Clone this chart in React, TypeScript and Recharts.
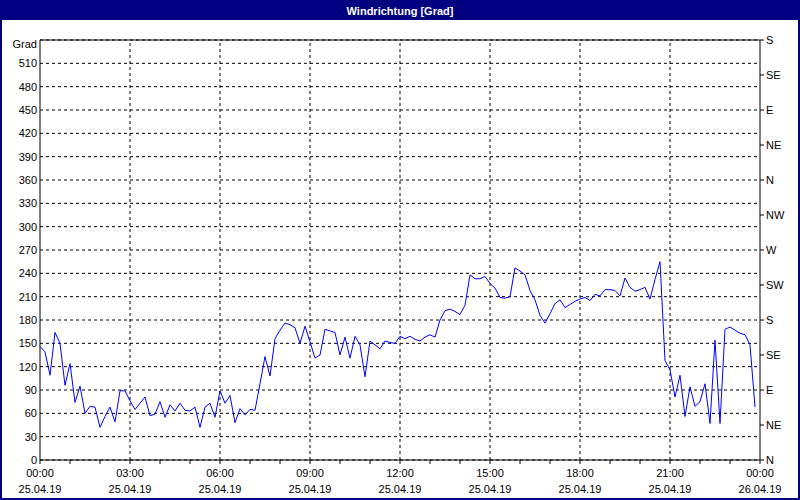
import React from 'react';
import { LineChart, Line, XAxis, YAxis, CartesianGrid, ReferenceLine } from 'recharts';

// wind direction in degrees, one reading every 10 minutes from 25.04.19 00:00
const stepMinutes = 10;
const directionValues = [
  146, 139, 109, 164, 150, 96, 124, 74, 95, 60, 69, 68,
  42, 56, 68, 49, 89, 89, 76, 65, 73, 81, 57, 59,
  75, 55, 71, 63, 73, 64, 63, 68, 42, 68, 73, 55,
  89, 73, 83, 48, 66, 58, 65, 64, 98, 133, 108, 156,
  167, 176, 174, 170, 150, 172, 152, 131, 135, 168, 166, 164,
  135, 158, 131, 159, 148, 107, 153, 148, 143, 153, 151, 150,
  159, 156, 159, 155, 153, 158, 161, 158, 180, 192, 194, 191,
  187, 199, 238, 233, 233, 236, 227, 221, 209, 208, 210, 247,
  243, 238, 218, 206, 186, 176, 188, 201, 206, 196, 200, 204,
  207, 209, 205, 213, 211, 219, 219, 218, 211, 234, 222, 217,
  219, 222, 207, 232, 255, 128, 116, 81, 109, 56, 94, 69,
  75, 98, 47, 154, 47, 168, 171, 167, 163, 161, 148, 68,
];

const hourTicks = [0, 1, 2, 3, 4, 5, 6, 7, 8, 9, 10, 11, 12, 13, 14, 15, 16, 17, 18, 19, 20, 21, 22, 23, 24];
const majorHours = [3, 6, 9, 12, 15, 18, 21];
const timeLabels = ['00:00', '03:00', '06:00', '09:00', '12:00', '15:00', '18:00', '21:00', '00:00'];
const dateLabels = ['25.04.19', '25.04.19', '25.04.19', '25.04.19', '25.04.19', '25.04.19', '25.04.19', '25.04.19', '26.04.19'];

const gradTicks = [0, 30, 60, 90, 120, 150, 180, 210, 240, 270, 300, 330, 360, 390, 420, 450, 480, 510, 540];
const compassTicks = [0, 45, 90, 135, 180, 225, 270, 315, 360, 405, 450, 495, 540];
const compassLabels = ['N', 'NE', 'E', 'SE', 'S', 'SW', 'W', 'NW', 'N', 'NE', 'E', 'SE', 'S'];

const data = directionValues.map((v, i) => ({ h: (i * stepMinutes) / 60, grad: v }));

const font = '"Liberation Sans", Arial, sans-serif';
const tickStyle = { fontSize: 11, fill: '#000', fontFamily: font };

const HourTick = (props: any) => {
  const { x, y, payload } = props;
  const h = payload.value;
  if (h % 3 !== 0) return <g />;
  const idx = h / 3;
  return (
    <g>
      <text x={x} y={y} dy={11} textAnchor="middle" {...tickStyle}>{timeLabels[idx]}</text>
      <text x={x} y={y} dy={27} textAnchor="middle" {...tickStyle}>{dateLabels[idx]}</text>
    </g>
  );
};

const GradTick = (props: any) => {
  const { x, y, payload } = props;
  const top = payload.value === 540;
  return (
    <text x={x} y={y} dy={top ? 8 : 4} textAnchor="end" {...tickStyle}>
      {top ? 'Grad' : payload.value}
    </text>
  );
};

const CompassTick = (props: any) => {
  const { x, y, payload } = props;
  return (
    <text x={x} y={y} dy={4} textAnchor="start" {...tickStyle}>
      {compassLabels[compassTicks.indexOf(payload.value)]}
    </text>
  );
};

export default function App() {
  return (
    <div
      style={{
        position: 'fixed',
        left: 0,
        top: 0,
        width: 800,
        height: 500,
        boxSizing: 'border-box',
        border: '2px solid #000080',
        background: '#fff',
        fontFamily: font,
      }}
    >
      <div
        style={{
          height: 18,
          lineHeight: '18px',
          background: '#000080',
          color: '#fff',
          fontWeight: 'bold',
          fontSize: 11,
          textAlign: 'center',
        }}
      >
        Windrichtung [Grad]
      </div>
      <LineChart width={796} height={478} data={data} margin={{ top: 20, right: 0, bottom: 0, left: 0 }}>
        <CartesianGrid vertical={false} stroke="#000" strokeDasharray="3 3" />
        <XAxis
          dataKey="h"
          type="number"
          domain={[0, 24]}
          ticks={hourTicks}
          interval={0}
          height={38}
          tickSize={4}
          tickMargin={2}
          stroke="#000"
          tick={<HourTick />}
        />
        <YAxis
          domain={[0, 540]}
          ticks={gradTicks}
          interval={0}
          width={38}
          tickLine={false}
          tickSize={0}
          tickMargin={3}
          stroke="#000"
          tick={<GradTick />}
        />
        <YAxis
          yAxisId="dir"
          orientation="right"
          domain={[0, 540]}
          ticks={compassTicks}
          interval={0}
          width={38}
          tickSize={4}
          tickMargin={2}
          stroke="#000"
          tick={<CompassTick />}
        />
        {majorHours.map((h) => (
          <ReferenceLine key={h} x={h} stroke="#000" strokeDasharray="3 3" />
        ))}
        <ReferenceLine y={540} stroke="#000" />
        {/* same readings bound to the compass axis so that it gets drawn */}
        <Line
          yAxisId="dir"
          dataKey="grad"
          type="linear"
          stroke="none"
          dot={false}
          activeDot={false}
          legendType="none"
          isAnimationActive={false}
        />
        <Line
          dataKey="grad"
          type="linear"
          stroke="#0000ff"
          strokeWidth={1}
          dot={false}
          isAnimationActive={false}
        />
      </LineChart>
    </div>
  );
}
